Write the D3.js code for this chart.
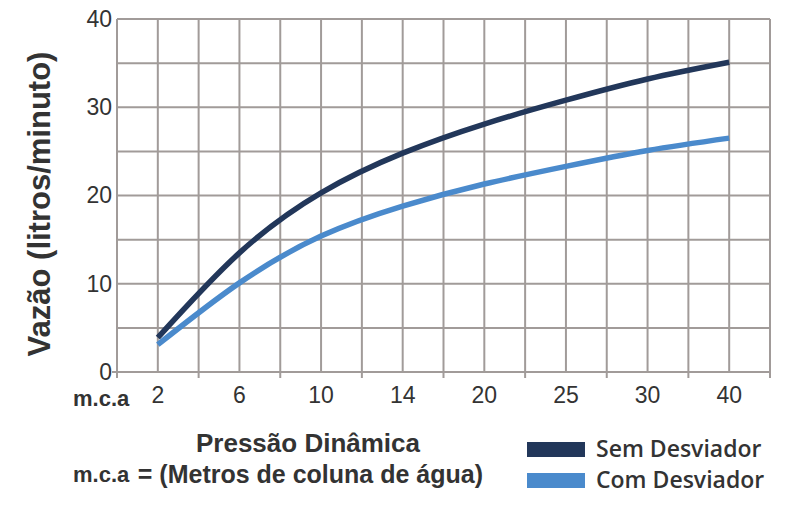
<!DOCTYPE html>
<html>
<head>
<meta charset="utf-8">
<script src="https://cdn.jsdelivr.net/npm/d3@7"></script>
<style>
  html, body { margin: 0; padding: 0; background: #ffffff; }
  svg { display: block; }
</style>
</head>
<body>
<svg id="chart" width="800" height="521"></svg>
<script>
// ---- data ----
const pressures = ["2", "6", "10", "14", "20", "25", "30", "40"];
const semDesviador = [3.9, 13.5, 20.3, 24.8, 28.1, 30.8, 33.2, 35.1];
const comDesviador = [3.1, 10.1, 15.4, 18.8, 21.3, 23.3, 25.1, 26.5];
const yTicks = [0, 10, 20, 30, 40];
const seriesNames = ["Sem Desviador", "Com Desviador"];

// ---- layout ----
const svg = d3.select("#chart");
const pLeft = 117, pRight = 770, pTop = 19, pBottom = 372;
const gridColor = "#a19b99";
const textColor = "#333333";
const colors = ["#22375a", "#4a8acc"];

const x = d3.scaleBand().domain(pressures).range([pLeft, pRight]).padding(0);
const y = d3.scaleLinear().domain([0, 40]).range([pBottom, pTop]);
const bw = x.bandwidth();

// vertical grid lines: band boundaries and band centres
const vLines = [];
pressures.forEach(p => { vLines.push(x(p)); vLines.push(x(p) + bw / 2); });
vLines.push(pRight);

const grid = svg.append("g");
grid.selectAll("line.v").data(vLines).join("line")
  .attr("x1", d => d).attr("x2", d => d)
  .attr("y1", pTop).attr("y2", pBottom)
  .attr("stroke", gridColor).attr("stroke-width", 2);

const hVals = d3.range(5, 41, 5);
grid.selectAll("line.h").data(hVals).join("line")
  .attr("x1", pLeft).attr("x2", pRight)
  .attr("y1", d => y(d)).attr("y2", d => y(d))
  .attr("stroke", gridColor).attr("stroke-width", 2);

// axis lines
grid.append("line").attr("x1", pLeft).attr("x2", pLeft).attr("y1", pTop).attr("y2", pBottom + 1)
  .attr("stroke", gridColor).attr("stroke-width", 2);
grid.append("line").attr("x1", pLeft - 1).attr("x2", pRight + 1).attr("y1", pBottom).attr("y2", pBottom)
  .attr("stroke", gridColor).attr("stroke-width", 2);

// bottom tick marks at band boundaries
const bTicks = pressures.map(p => x(p)).concat([pRight]);
grid.selectAll("line.bt").data(bTicks).join("line")
  .attr("x1", d => d).attr("x2", d => d)
  .attr("y1", pBottom).attr("y2", pBottom + 6)
  .attr("stroke", gridColor).attr("stroke-width", 2);

// small left tick at 0
grid.append("line").attr("x1", pLeft - 5).attr("x2", pLeft).attr("y1", pBottom).attr("y2", pBottom)
  .attr("stroke", gridColor).attr("stroke-width", 2);

// x axis labels
const xAxis = d3.axisBottom(x).tickSize(0).tickPadding(0);
const gx = svg.append("g").attr("transform", `translate(0,${pBottom + 14})`).call(xAxis);
gx.select(".domain").remove();
gx.selectAll("text")
  .attr("dy", "0.75em")
  .attr("font-family", "'Liberation Sans', Arial, sans-serif")
  .attr("font-size", 23).attr("fill", textColor);

// y axis labels
const yAxis = d3.axisLeft(y).tickValues(yTicks).tickSize(0).tickPadding(0);
const gy = svg.append("g").attr("transform", `translate(${pLeft - 5},0)`).call(yAxis);
gy.select(".domain").remove();
gy.selectAll("text")
  .attr("font-family", "'Liberation Sans', Arial, sans-serif")
  .attr("font-size", 23).attr("fill", textColor);

// lines
const line = d3.line()
  .x((d, i) => x(pressures[i]) + bw / 2)
  .y(d => y(d))
  .curve(d3.curveNatural);

[semDesviador, comDesviador].forEach((s, i) => {
  svg.append("path").datum(s)
    .attr("d", line)
    .attr("fill", "none")
    .attr("stroke", colors[i])
    .attr("stroke-width", 5.5);
});

// y title
svg.append("text")
  .attr("transform", "translate(50,204) rotate(-90)")
  .attr("text-anchor", "middle")
  .attr("font-family", "'Liberation Sans', Arial, sans-serif")
  .attr("font-weight", "bold").attr("font-size", 31)
  .attr("fill", textColor)
  .text("Vazão (litros/minuto)");

// m.c.a under axis
svg.append("text")
  .attr("x", 73).attr("y", 406)
  .attr("font-family", "'Liberation Sans', Arial, sans-serif")
  .attr("font-weight", "bold").attr("font-size", 22)
  .attr("fill", textColor)
  .text("m.c.a");

// x title lines
svg.append("text")
  .attr("x", 308).attr("y", 452)
  .attr("text-anchor", "middle")
  .attr("font-family", "'Liberation Sans', Arial, sans-serif")
  .attr("font-weight", "bold").attr("font-size", 26)
  .attr("fill", textColor)
  .text("Pressão Dinâmica");

svg.append("text")
  .attr("x", 73).attr("y", 482)
  .attr("font-family", "'Liberation Sans', Arial, sans-serif")
  .attr("font-weight", "bold").attr("font-size", 22)
  .attr("fill", textColor)
  .text("m.c.a");

svg.append("text")
  .attr("x", 483).attr("y", 483)
  .attr("text-anchor", "end")
  .attr("font-family", "'Liberation Sans', Arial, sans-serif")
  .attr("font-weight", "bold").attr("font-size", 25)
  .attr("fill", textColor)
  .text("= (Metros de coluna de água)");

// legend
const legend = svg.append("g");
seriesNames.forEach((name, i) => {
  const yy = 442 + i * 31;
  legend.append("rect")
    .attr("x", 527).attr("y", yy).attr("width", 58).attr("height", 15)
    .attr("fill", colors[i]);
  legend.append("text")
    .attr("x", 596).attr("y", yy + 15)
    .attr("font-family", "'Open Sans', 'Noto Sans', sans-serif")
    .attr("font-weight", 600).attr("font-size", 23)
    .attr("fill", textColor)
    .text(name);
});
</script>
</body>
</html>
